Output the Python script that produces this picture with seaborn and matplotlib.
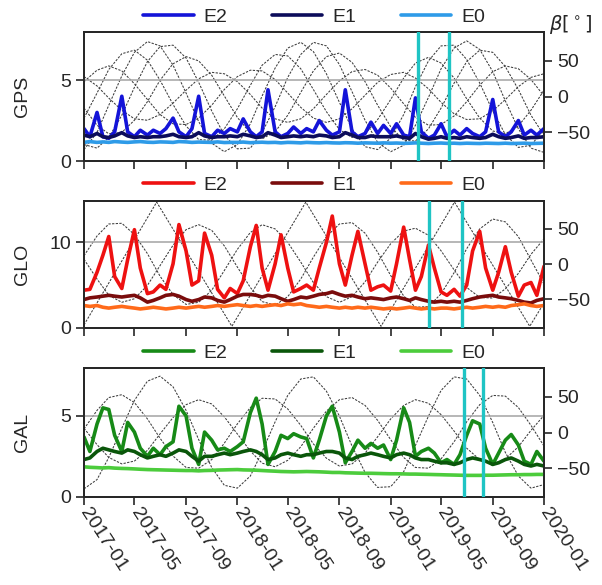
import pandas as pd
import matplotlib
matplotlib.use('Agg')
import matplotlib.pyplot as plt
import matplotlib.dates as mdates
import seaborn as sns

# time grids (semi-monthly for the E values, monthly for the beta angles)
half_month = pd.date_range('2017-01-01', '2020-01-01', freq='SMS')
month_start = pd.date_range('2017-01-01', '2020-01-01', freq='MS')

# ---- GPS ----
gps_e2 = [2.0, 1.5, 3.0, 1.5, 1.4, 1.8, 4.0, 1.8, 1.5, 1.9,
          1.6, 1.9, 1.7, 2.0, 2.65, 1.8, 1.5, 2.0, 4.0, 1.7,
          1.5, 1.9, 1.7, 2.0, 1.8, 2.6, 1.8, 1.5, 1.8, 4.4,
          1.8, 1.5, 1.7, 2.1, 1.7, 2.0, 1.8, 2.5, 1.9, 1.6,
          1.8, 4.4, 1.8, 1.5, 1.7, 2.4, 1.7, 2.2, 1.7, 2.3,
          1.6, 1.5, 3.9, 1.8, 1.4, 1.6, 2.3, 1.5, 1.9, 1.6,
          2.0, 1.7, 1.5, 1.8, 3.8, 1.8, 1.5, 1.8, 2.5, 1.6,
          1.9, 1.6, 2.0]
gps_e1 = [1.6, 1.5, 1.7, 1.5, 1.45, 1.55, 1.75, 1.55, 1.45, 1.5,
          1.45, 1.5, 1.5, 1.55, 1.65, 1.5, 1.45, 1.5, 1.75, 1.55,
          1.45, 1.5, 1.5, 1.55, 1.5, 1.65, 1.55, 1.45, 1.5, 1.75,
          1.6, 1.45, 1.5, 1.55, 1.5, 1.55, 1.5, 1.6, 1.55, 1.45,
          1.5, 1.75, 1.6, 1.45, 1.45, 1.55, 1.5, 1.5, 1.5, 1.55,
          1.45, 1.4, 1.7, 1.5, 1.35, 1.4, 1.5, 1.4, 1.45, 1.4,
          1.5, 1.45, 1.4, 1.45, 1.65, 1.5, 1.4, 1.45, 1.55, 1.4,
          1.45, 1.45, 1.5]
gps_e0 = [1.15, 1.2, 1.15, 1.18, 1.15, 1.2, 1.17, 1.15, 1.18, 1.2,
          1.16, 1.15, 1.18, 1.17, 1.15, 1.2, 1.18, 1.15, 1.17, 1.16,
          1.15, 1.18, 1.14, 1.15, 1.15, 1.17, 1.13, 1.15, 1.16, 1.14,
          1.15, 1.12, 1.15, 1.14, 1.12, 1.15, 1.13, 1.12, 1.14, 1.12,
          1.11, 1.13, 1.12, 1.1, 1.12, 1.11, 1.1, 1.12, 1.1, 1.11,
          1.09, 1.1, 1.12, 1.1, 1.08, 1.1, 1.11, 1.09, 1.1, 1.08,
          1.1, 1.09, 1.08, 1.1, 1.09, 1.08, 1.1, 1.08, 1.09, 1.1,
          1.08, 1.09, 1.1]
gps_beta = [
    [21, 37, 43, 36, 18, -4, -25, -38, -39, -30, -12, 10, 28, 37, 36, 24, 5, -15, -30,
     -36, -31, -17, 2, 20, 31, 34, 26, 11, -8, -24, -32, -31, -20, -4, 14, 27, 32],
    [-30, 5, 38, 60, 65, 51, 23, -11, -41, -60, -61, -45, -17, 16, 44, 59, 57, 39, 10,
     -21, -46, -57, -52, -32, -4, 26, 47, 55, 47, 26, -3, -30, -48, -52, -41, -19, 9],
    [-74, -50, -12, 29, 62, 77, 71, 44, 5, -35, -65, -77, -67, -38, 1, 40, 68, 76, 63,
     32, -8, -45, -70, -74, -58, -25, 14, 50, 71, 72, 52, 19, -20, -53, -71, -68, -46],
    [-67, -72, -57, -26, 13, 49, 70, 72, 54, 20, -20, -54, -73, -72, -50, -14, 27, 59, 76,
     71, 45, 7, -33, -64, -77, -68, -40, -1, 39, 68, 78, 66, 35, -6, -45, -72, -78],
    [-16, -40, -52, -50, -33, -7, 23, 46, 56, 50, 30, 1, -29, -51, -59, -49, -26, 6, 36,
     56, 61, 48, 21, -12, -42, -61, -62, -45, -16, 19, 49, 65, 62, 42, 10, -26, -54],
    [28, 15, -2, -19, -31, -33, -25, -9, 9, 25, 34, 32, 21, 3, -16, -31, -36, -31, -17,
     3, 22, 35, 38, 30, 12, -10, -29, -40, -39, -27, -7, 16, 35, 43, 39, 24, 1],
]
gps_marks = ['2019-03-07', '2019-05-21']

# ---- GLONASS ----
glo_e2 = [4.4, 4.5, 6.5, 8.5, 10.7, 6.0, 4.6, 8.0, 11.5, 7.0,
          4.0, 4.2, 5.0, 4.5, 7.5, 12.1, 9.0, 5.0, 5.5, 11.1,
          8.5, 4.5, 3.5, 4.6, 4.0, 5.5, 9.5, 12.0, 7.0, 4.4,
          7.5, 10.9, 7.0, 4.2, 4.6, 5.0, 4.4, 7.0, 10.0, 13.1,
          7.5, 5.0, 8.5, 11.3, 7.5, 4.4, 4.8, 5.0, 4.3, 7.5,
          11.8, 8.0, 4.4, 6.0, 9.7, 7.0, 4.2, 3.8, 4.5, 3.7,
          5.0, 9.0, 11.3, 7.0, 4.4, 6.5, 9.5, 6.5, 3.7, 5.0,
          5.3, 3.8, 7.2]
glo_e1 = [3.3, 3.5, 3.6, 3.7, 3.8, 3.7, 3.6, 3.7, 3.8, 3.5,
          3.0, 3.2, 3.5, 3.8, 3.9, 3.7, 3.3, 3.1, 3.3, 3.6,
          3.5, 3.2, 3.0, 3.3, 3.7, 3.9, 3.9, 3.8, 3.6, 3.8,
          3.7, 3.4, 3.1, 3.3, 3.6, 3.5, 3.7, 3.9, 4.0, 4.2,
          3.9, 3.7, 3.8, 3.6, 3.4, 3.5, 3.4, 3.3, 3.5, 3.6,
          3.4, 3.2, 3.5, 3.3, 3.1, 3.0, 3.1, 3.0, 3.1, 3.0,
          3.2, 3.4, 3.6, 3.7, 3.8, 3.6, 3.5, 3.4, 3.2, 3.0,
          2.9, 3.2, 3.4]
glo_e0 = [2.6, 2.5, 2.6, 2.4, 2.3, 2.4, 2.5, 2.4, 2.3, 2.2,
          2.3, 2.4, 2.3, 2.2, 2.3, 2.4, 2.3, 2.4, 2.5, 2.4,
          2.5, 2.6, 2.5, 2.6, 2.7, 2.6, 2.5, 2.6, 2.5, 2.6,
          2.7, 2.6, 2.8, 2.7, 2.8, 2.6, 2.5, 2.4, 2.5, 2.4,
          2.3, 2.4, 2.3, 2.4, 2.3, 2.4, 2.3, 2.2, 2.3, 2.2,
          2.3, 2.4, 2.3, 2.2, 2.3, 2.2, 2.3, 2.3, 2.2, 2.3,
          2.4, 2.3, 2.4, 2.5, 2.4, 2.5, 2.4, 2.6, 2.7, 2.8,
          2.6, 2.5, 2.6]
glo_beta = [
    [7, -21, -44, -54, -49, -30, -2, 27, 49, 56, 48, 26, -4, -33, -53, -58, -46, -21, 10,
     39, 57, 59, 44, 17, -16, -45, -61, -60, -42, -12, 22, 50, 64, 60, 39, 6, -28],
    [12, 40, 57, 58, 42, 15, -17, -43, -57, -54, -37, -9, 21, 45, 56, 50, 31, 3, -26,
     -46, -54, -46, -25, 3, 29, 47, 51, 41, 19, -8, -33, -47, -48, -35, -13, 14, 36],
]
# plane whose beta angle swings linearly between the extremes
glo_tri_dates = ['2017-01-01', '2017-06-23', '2017-12-19', '2018-06-13',
                 '2018-12-09', '2019-06-02', '2019-11-28', '2020-01-01']
glo_tri_beta = [-86, 88, -88, 88, -88, 88, -88, -55]
glo_marks = ['2019-04-03', '2019-06-19']

# ---- Galileo ----
gal_e2 = [3.7, 2.8, 4.5, 5.5, 5.4, 3.8, 2.8, 4.6, 4.0, 3.0,
          2.5, 3.0, 2.6, 3.1, 3.4, 5.6, 5.0, 3.0, 2.0, 4.0,
          3.5, 2.9, 3.0, 2.8, 3.1, 3.4, 5.2, 6.1, 4.5, 2.0,
          2.8, 3.8, 3.6, 3.9, 3.7, 3.6, 2.4, 3.5, 5.0, 5.6,
          4.0, 2.1, 2.8, 3.5, 3.0, 3.3, 3.0, 3.2, 2.3, 3.5,
          5.5, 4.6, 2.5, 2.8, 3.0, 2.7, 2.1, 2.3, 2.0, 2.6,
          3.8, 4.7, 4.5, 3.0, 2.0, 2.7, 3.5, 3.85, 3.2, 2.2,
          2.0, 2.8, 2.2]
gal_e1 = [2.3, 2.4, 2.8, 3.0, 2.9, 2.8, 2.7, 2.9, 2.8, 2.6,
          2.4, 2.5, 2.6, 2.5, 2.7, 2.9, 2.8, 2.5, 2.2, 2.5,
          2.5, 2.6, 2.7, 2.6, 2.7, 2.8, 2.9, 2.8, 2.6, 2.3,
          2.4, 2.6, 2.7, 2.6, 2.5, 2.6, 2.6, 2.7, 2.8, 2.8,
          2.7, 2.4, 2.3, 2.5, 2.6, 2.7, 2.6, 2.5, 2.4, 2.6,
          2.7, 2.6, 2.4, 2.3, 2.3, 2.2, 2.1, 2.1, 2.0, 2.1,
          2.3, 2.4, 2.3, 2.2, 2.0, 2.1, 2.3, 2.4, 2.2, 2.0,
          1.9, 2.0, 1.9]
gal_e0 = [1.85, 1.82, 1.8, 1.78, 1.8, 1.77, 1.75, 1.74, 1.72, 1.7,
          1.68, 1.67, 1.66, 1.65, 1.64, 1.63, 1.62, 1.62, 1.6, 1.62,
          1.63, 1.65, 1.66, 1.67, 1.68, 1.66, 1.65, 1.64, 1.62, 1.6,
          1.58, 1.56, 1.55, 1.54, 1.55, 1.56, 1.55, 1.54, 1.52, 1.5,
          1.5, 1.48, 1.47, 1.46, 1.45, 1.45, 1.44, 1.43, 1.42, 1.42,
          1.41, 1.4, 1.4, 1.39, 1.38, 1.37, 1.36, 1.35, 1.34, 1.33,
          1.32, 1.32, 1.32, 1.33, 1.33, 1.34, 1.35, 1.36, 1.36, 1.37,
          1.37, 1.38, 1.38]
gal_beta = [
    [-79, -66, -35, 6, 45, 72, 79, 64, 31, -10, -49, -74, -78, -61, -27, 15, 52, 75, 78,
     58, 23, -19, -56, -77, -76, -55, -18, 23, 59, 78, 75, 52, 14, -28, -61, -78, -73],
    [6, -17, -35, -44, -40, -25, -2, 21, 39, 46, 40, 22, -2, -26, -43, -48, -39, -20, 6,
     30, 46, 49, 38, 17, -10, -35, -49, -50, -37, -13, 15, 39, 52, 51, 35, 10, -19],
    [5, 31, 49, 53, 42, 19, -8, -33, -49, -50, -38, -15, 12, 35, 48, 47, 33, 10, -16,
     -36, -47, -44, -29, -6, 19, 38, 46, 41, 25, 2, -22, -38, -44, -37, -20, 3, 24],
]
gal_marks = ['2019-06-24', '2019-08-08']

labels = ['E2', 'E1', 'E0']
gps_colors = ['#1414d8', '#0c0c5a', '#2e9be8']
glo_colors = ['#ee1111', '#7a0c0c', '#ff6a1a']
gal_colors = ['#178a17', '#0a560a', '#4ccc3c']

sns.set_style('ticks')
plt.rcParams['font.family'] = ['Liberation Sans', 'DejaVu Sans']
plt.rcParams['font.size'] = 14
plt.rcParams['axes.linewidth'] = 1.3

fig = plt.figure(figsize=(6.02, 5.85), dpi=100)
L, W = 84 / 602, 460 / 602
ax_gps = fig.add_axes([L, 1 - 161 / 585, W, 128.7 / 585])
ax_glo = fig.add_axes([L, 1 - 327.7 / 585, W, 127 / 585])
ax_gal = fig.add_axes([L, 1 - 496.7 / 585, W, 128.4 / 585])

t0, t1 = pd.Timestamp('2017-01-01'), pd.Timestamp('2020-01-01')


def panel(ax, name, vals, colors, betas, marks, ymax, ytick, tri=None):
    ax2 = ax.twinx()
    for b in betas:
        sns.lineplot(x=month_start[:len(b)], y=b, ax=ax2, color='#3c3c3c',
                     lw=0.75, linestyle=(0, (2.2, 1.3)), legend=False)
    if tri is not None:
        sns.lineplot(x=pd.to_datetime(tri[0]), y=tri[1], ax=ax2, color='#3c3c3c',
                     lw=0.75, linestyle=(0, (2.2, 1.3)), legend=False)
    ax2.set_ylim(-90, 90)
    ax2.set_yticks([-50, 0, 50])
    ax2.tick_params(axis='y', direction='out', length=6, width=1.2, labelsize=14)
    ax2.set_ylabel('')
    ax2.set_xlabel('')

    ax.set_zorder(ax2.get_zorder() + 1)
    ax.patch.set_visible(False)
    ax.axhline(ytick, color='#aaaaaa', lw=1.2, zorder=0)
    for v, c, lab in zip(vals, colors, labels):
        sns.lineplot(x=half_month[:len(v)], y=v, ax=ax, color=c, lw=2.6, label=lab)
    for m in marks:
        ax.axvline(pd.Timestamp(m), color='#1fc4c4', lw=2.4, zorder=5)

    ax.set_xlim(t0, t1)
    ax.set_ylim(0, ymax)
    ax.set_yticks([0, ytick])
    ax.set_xlabel('')
    ax.set_ylabel(name, fontsize=14)
    ax.yaxis.set_label_coords(-0.115, 0.5)
    ax.xaxis.set_major_locator(mdates.MonthLocator(bymonth=[1, 5, 9]))
    ax.xaxis.set_major_formatter(mdates.DateFormatter('%Y-%m'))
    ax.tick_params(direction='out', length=6, width=1.2, labelsize=14)
    h, lb = ax.get_legend_handles_labels()
    ax.legend(h, lb, loc='lower center', bbox_to_anchor=(0.5, 0.99), ncol=3,
              frameon=False, fontsize=14, handlelength=2.6, handletextpad=0.5,
              columnspacing=2.3, borderaxespad=0.0)


panel(ax_gps, 'GPS', [gps_e2, gps_e1, gps_e0], gps_colors, gps_beta, gps_marks, 7.95, 5)
panel(ax_glo, 'GLO', [glo_e2, glo_e1, glo_e0], glo_colors, glo_beta, glo_marks, 14.9, 10,
      tri=(glo_tri_dates, glo_tri_beta))
panel(ax_gal, 'GAL', [gal_e2, gal_e1, gal_e0], gal_colors, gal_beta, gal_marks, 7.95, 5)

ax_gps.set_xticklabels([])
ax_glo.set_xticklabels([])
plt.setp(ax_gal.get_xticklabels(), rotation=-57, ha='left', va='center',
         rotation_mode='anchor')

fig.text(571 / 602, 1 - 25 / 585, r'$\beta[\,^{\circ}\,]$', ha='center', va='center',
         fontsize=14)

fig.savefig('out.png', dpi=100)
